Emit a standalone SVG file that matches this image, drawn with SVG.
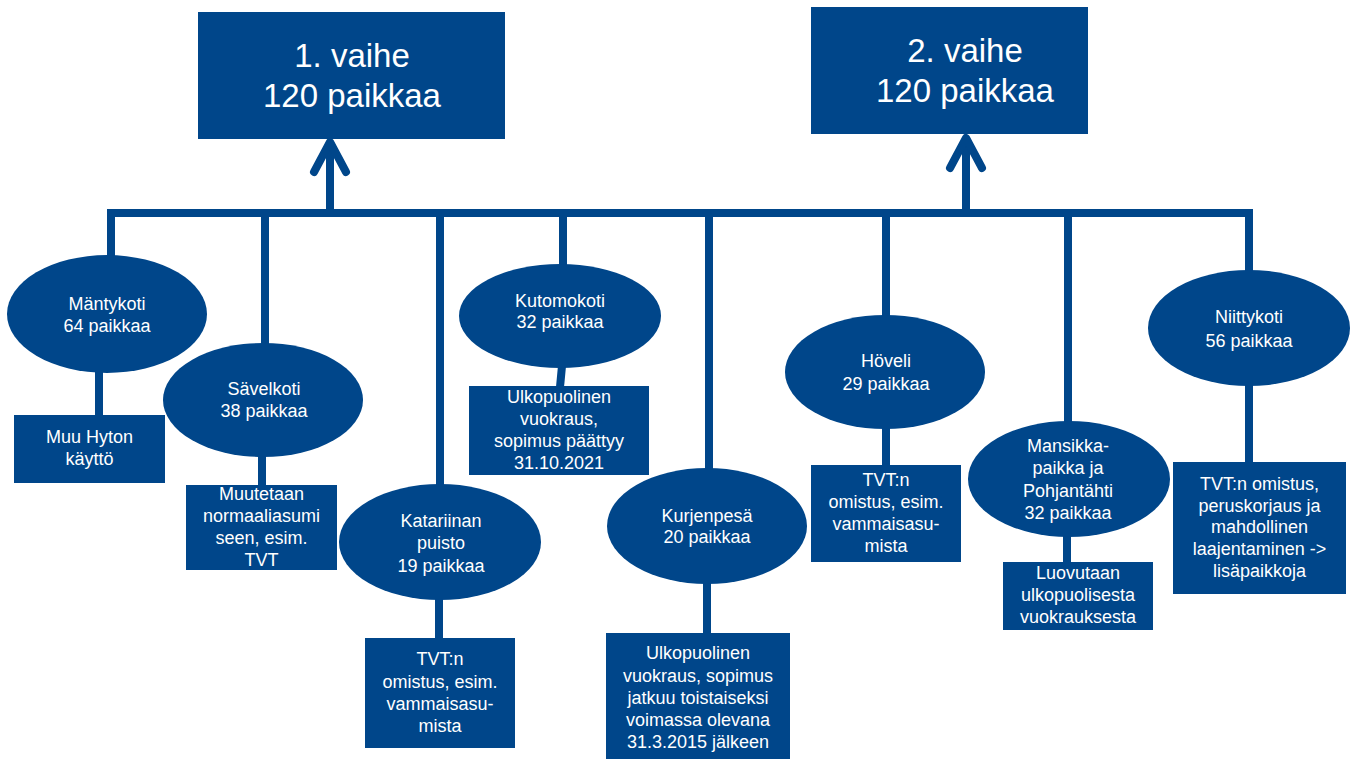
<svg xmlns="http://www.w3.org/2000/svg" width="1358" height="761" viewBox="0 0 1358 761">
<style>
.n{fill:#00468a}
.c{stroke:#00468a;stroke-width:8;fill:none}
.t{font-family:"Liberation Sans",Arial,sans-serif;font-size:18px;fill:#fff;text-anchor:middle}
.h{font-family:"Liberation Sans",Arial,sans-serif;font-size:33px;fill:#fff;text-anchor:middle}
</style>
<rect width="1358" height="761" fill="#fff"/>
<g id="connectors">
<path class="c" d="M107,213 H1253"/>
<path class="c" d="M330,213 V142"/>
<path class="c" d="M314,172 L330,142 L346,172" stroke-linecap="round" stroke-linejoin="round"/>
<path class="c" d="M966,213 V138"/>
<path class="c" d="M950,168 L966,138 L982,168" stroke-linecap="round" stroke-linejoin="round"/>
<path class="c" d="M111,209 V258"/>
<path class="c" d="M99,370 V416"/>
<path class="c" d="M265,209 V346"/>
<path class="c" d="M262,454 V486"/>
<path class="c" d="M440,209 V488"/>
<path class="c" d="M439,596 V639"/>
<path class="c" d="M563,209 V268"/>
<path class="c" d="M562,366 L560,387"/>
<path class="c" d="M709,209 V470"/>
<path class="c" d="M707,582 V634"/>
<path class="c" d="M886,209 V318"/>
<path class="c" d="M886,426 V466"/>
<path class="c" d="M1068,209 V423"/>
<path class="c" d="M1067,534 V563"/>
<path class="c" d="M1249,209 V272"/>
<path class="c" d="M1249,383 V463"/>
</g>
<g id="vaihe1"><rect class="n" x="198" y="12" width="307" height="127"/><text class="h" x="352" y="67">1. vaihe</text><text class="h" x="352" y="107">120 paikkaa</text></g>
<g id="vaihe2"><rect class="n" x="811" y="7" width="277" height="127"/><text class="h" x="965" y="62">2. vaihe</text><text class="h" x="965" y="102">120 paikkaa</text></g>
<g id="mantykoti"><ellipse class="n" cx="107" cy="314" rx="100" ry="59"/><text class="t" x="107" y="310">Mäntykoti</text><text class="t" x="107" y="332">64 paikkaa</text></g>
<g id="mantykoti-note"><rect class="n" x="14" y="415" width="151" height="68"/><text class="t" x="89.5" y="443">Muu Hyton</text><text class="t" x="89.5" y="465">käyttö</text></g>
<g id="savelkoti"><ellipse class="n" cx="263" cy="400" rx="100" ry="57"/><text class="t" x="264" y="395">Sävelkoti</text><text class="t" x="264" y="417">38 paikkaa</text></g>
<g id="savelkoti-note"><rect class="n" x="186" y="485" width="151" height="85"/><text class="t" x="261.5" y="500">Muutetaan</text><text class="t" x="261.5" y="522">normaaliasumi</text><text class="t" x="261.5" y="544">seen, esim.</text><text class="t" x="261.5" y="566">TVT</text></g>
<g id="katariinan"><ellipse class="n" cx="440" cy="542" rx="101" ry="58"/><text class="t" x="441" y="527">Katariinan</text><text class="t" x="441" y="549">puisto</text><text class="t" x="441" y="572">19 paikkaa</text></g>
<g id="katariinan-note"><rect class="n" x="365" y="638" width="150" height="110"/><text class="t" x="440" y="665">TVT:n</text><text class="t" x="440" y="688">omistus, esim.</text><text class="t" x="440" y="710">vammaisasu-</text><text class="t" x="440" y="732">mista</text></g>
<g id="kutomokoti"><ellipse class="n" cx="560" cy="316" rx="101" ry="52"/><text class="t" x="560" y="307">Kutomokoti</text><text class="t" x="560" y="328">32 paikkaa</text></g>
<g id="kutomokoti-note"><rect class="n" x="469" y="386" width="180" height="89"/><text class="t" x="559" y="403">Ulkopuolinen</text><text class="t" x="559" y="425">vuokraus,</text><text class="t" x="559" y="447">sopimus päättyy</text><text class="t" x="559" y="469">31.10.2021</text></g>
<g id="kurjenpesa"><ellipse class="n" cx="707" cy="526" rx="100" ry="58"/><text class="t" x="707" y="522">Kurjenpesä</text><text class="t" x="707" y="543">20 paikkaa</text></g>
<g id="kurjenpesa-note"><rect class="n" x="606" y="633" width="184" height="126"/><text class="t" x="698" y="659">Ulkopuolinen</text><text class="t" x="698" y="682">vuokraus, sopimus</text><text class="t" x="698" y="704">jatkuu toistaiseksi</text><text class="t" x="698" y="726">voimassa olevana</text><text class="t" x="698" y="748">31.3.2015 jälkeen</text></g>
<g id="hoveli"><ellipse class="n" cx="885" cy="372" rx="100" ry="57"/><text class="t" x="886" y="367">Höveli</text><text class="t" x="886" y="390">29 paikkaa</text></g>
<g id="hoveli-note"><rect class="n" x="811" y="465" width="150" height="97"/><text class="t" x="886" y="486">TVT:n</text><text class="t" x="886" y="508">omistus, esim.</text><text class="t" x="886" y="530">vammaisasu-</text><text class="t" x="886" y="552">mista</text></g>
<g id="mansikka"><ellipse class="n" cx="1069" cy="479" rx="101" ry="58"/><text class="t" x="1068" y="452">Mansikka-</text><text class="t" x="1068" y="474">paikka ja</text><text class="t" x="1068" y="497">Pohjantähti</text><text class="t" x="1068" y="519">32 paikkaa</text></g>
<g id="mansikka-note"><rect class="n" x="1003" y="562" width="150" height="68"/><text class="t" x="1078" y="579">Luovutaan</text><text class="t" x="1078" y="601">ulkopuolisesta</text><text class="t" x="1078" y="623">vuokrauksesta</text></g>
<g id="niittykoti"><ellipse class="n" cx="1249" cy="328" rx="101" ry="58"/><text class="t" x="1249" y="323">Niittykoti</text><text class="t" x="1249" y="347">56 paikkaa</text></g>
<g id="niittykoti-note"><rect class="n" x="1173" y="462" width="173" height="132"/><text class="t" x="1259.5" y="490">TVT:n omistus,</text><text class="t" x="1259.5" y="512">peruskorjaus ja</text><text class="t" x="1259.5" y="533">mahdollinen</text><text class="t" x="1259.5" y="555">laajentaminen -&gt;</text><text class="t" x="1259.5" y="577">lisäpaikkoja</text></g>
</svg>
